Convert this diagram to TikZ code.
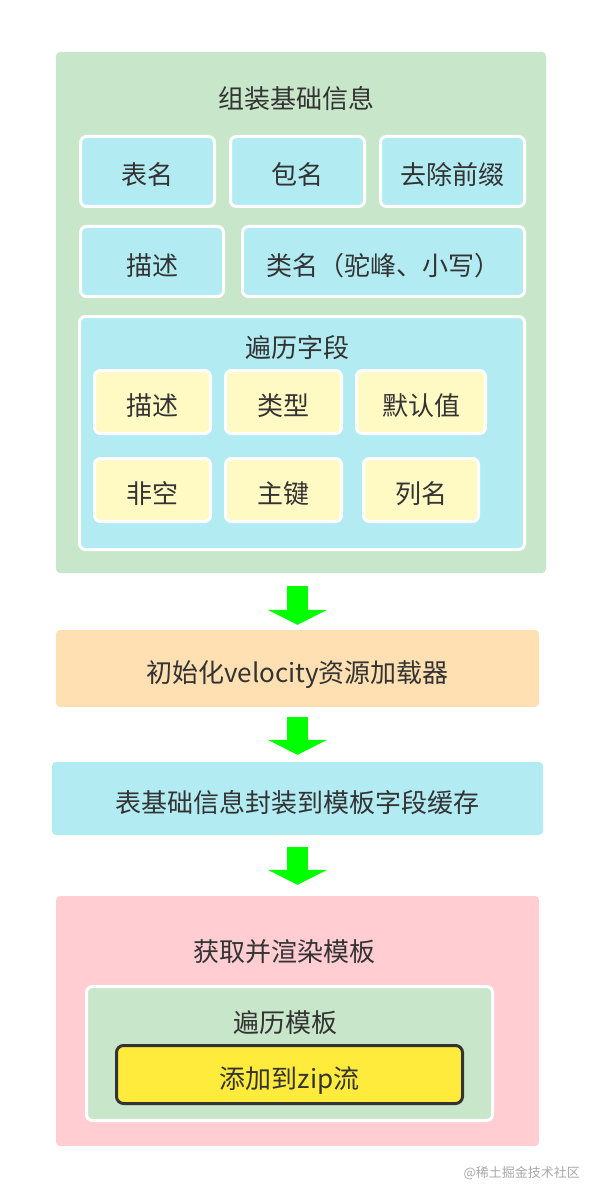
\documentclass[tikz,border=0pt]{standalone}
\usepackage{fontspec}
\setmainfont{Noto Sans CJK SC}
\usetikzlibrary{fit,calc,arrows.meta}
\definecolor{bggreen}{HTML}{C8E6C9}
\definecolor{bgcyan}{HTML}{B2EBF2}
\definecolor{bgyel}{HTML}{FFF9C4}
\definecolor{bgorange}{HTML}{FFE0B2}
\definecolor{bgpink}{HTML}{FFCDD2}
\definecolor{zipyel}{HTML}{FFEB3B}
\definecolor{arrgreen}{HTML}{00FF00}
\definecolor{txt}{HTML}{333333}
\definecolor{wm}{HTML}{A8A8A8}
\tikzset{
  plain/.style={fill=#1, draw=none, rounded corners=4pt, inner sep=0pt},
  wbox/.style={fill=#1, draw=white, line width=3pt, rounded corners=6pt, inner sep=-1.5pt},
  zipbox/.style={fill=zipyel, draw=txt, line width=3pt, rounded corners=7pt, inner sep=-1.5pt},
  lbl/.style={text=txt, font=\fontsize{26pt}{30pt}\selectfont, inner sep=0pt, anchor=base},
  flow/.style={draw=arrgreen, line width=21pt, -{Triangle[width=59pt,length=15pt]}},
}
\newcommand\bx[7]{\node[#6, fit={(#2,#3) (#4,#5)}] (#1) {};
  \node[lbl] (#1-l) at ($(#1.center)+(0,13.5)$) {#7};}
\begin{document}
\begin{tikzpicture}[x=1pt,y=-1pt]
\useasboundingbox (0,0) rectangle (599,1198);
% group 1
\bx{g1}{56}{52}{546}{573}{plain=bggreen}{}
\node[lbl] (g1t) at (296,108.5) {组装基础信息};
\bx{tname}{79}{135}{216}{208}{wbox=bgcyan}{表名}
\bx{pname}{229}{135}{366}{208}{wbox=bgcyan}{包名}
\bx{prefix}{379}{135}{526}{208}{wbox=bgcyan}{去除前缀}
\bx{desc}{79}{225}{225}{298}{wbox=bgcyan}{描述}
\bx{cname}{241}{225}{526}{298}{wbox=bgcyan}{类名（驼峰、小写）}
\bx{fields}{78}{315}{526}{551}{wbox=bgcyan}{}
\node[lbl] (fieldst) at (297,357) {遍历字段};
\bx{fdesc}{93}{369}{212}{435}{wbox=bgyel}{描述}
\bx{ftype}{224}{369}{343}{435}{wbox=bgyel}{类型}
\bx{fdef}{355}{369}{487}{435}{wbox=bgyel}{默认值}
\bx{fnn}{93}{457}{212}{523}{wbox=bgyel}{非空}
\bx{fpk}{224}{457}{343}{523}{wbox=bgyel}{主键}
\bx{fcol}{362}{457}{480}{523}{wbox=bgyel}{列名}
% steps
\bx{init}{56}{630}{539}{707}{plain=bgorange}{初始化velocity资源加载器}
\bx{wrap}{52}{762}{543}{835}{plain=bgcyan}{表基础信息封装到模板字段缓存}
\bx{render}{56}{896}{539}{1146}{plain=bgpink}{}
\node[lbl] (rendert) at (284,961) {获取并渲染模板};
\bx{tpl}{85}{985}{494}{1122}{wbox=bggreen}{}
\node[lbl] (tplt) at (285,1032) {遍历模板};
\bx{zip}{115}{1044}{464}{1105}{zipbox}{添加到zip流}
% arrows
\coordinate (a1s) at ($(g1.south -| init.north)+(0,13)$);
\coordinate (a1e) at ($(init.north)+(0,-5)$);
\draw[flow] (a1s) -- (a1e);
\coordinate (a2s) at ($(init.south)+(0,10)$);
\coordinate (a2e) at ($(wrap.north -| init.north)+(0,-7)$);
\draw[flow] (a2s) -- (a2e);
\coordinate (a3s) at ($(wrap.south -| init.north)+(0,12)$);
\coordinate (a3e) at ($(render.north)+(0,-11)$);
\draw[flow] (a3s) -- (a3e);
% watermark
\node[text=wm, font=\fontsize{13pt}{15pt}\selectfont, anchor=base east, inner sep=0pt] (wmk) at (580,1177) {@稀土掘金技术社区};
\end{tikzpicture}
\end{document}
